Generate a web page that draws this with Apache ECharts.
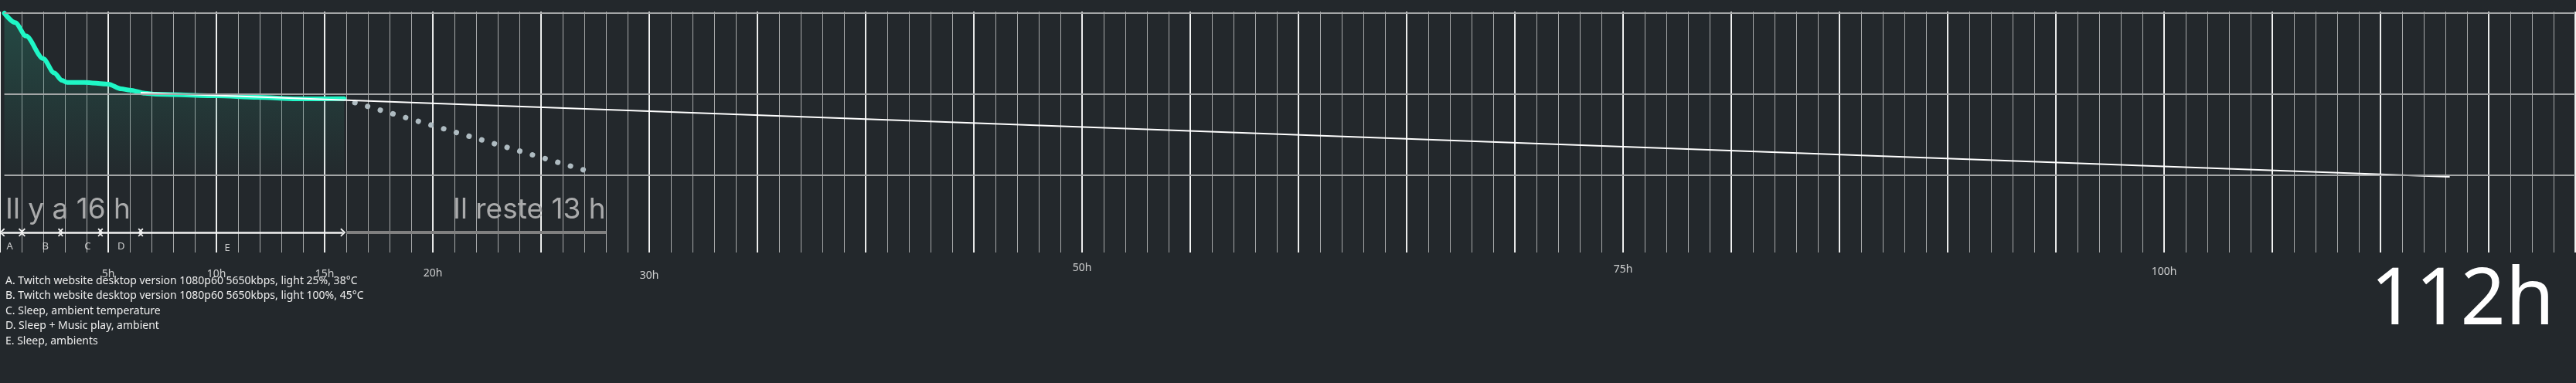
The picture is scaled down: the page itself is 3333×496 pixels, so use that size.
<!DOCTYPE html>
<html>
<head>
<meta charset="utf-8">
<script src="https://cdn.jsdelivr.net/npm/echarts@6/dist/echarts.min.js"></script>
<style>
  html, body { margin: 0; padding: 0; background: #23282c; }
  #chart { width: 3333px; height: 496px; }
</style>
</head>
<body>
<div id="chart"></div>
<script>
// measured battery level (%) against elapsed time (h)
const measuredHours = [0.2, 0.7, 1.2, 2.0, 2.5, 2.86, 3.1, 3.9, 5.0, 5.6, 6.0, 6.7, 7.2, 10, 11.9, 13.7, 15.9];
const measuredLevel = [100, 94.2, 85.9, 71.9, 63.2, 58.6, 57.3, 57.3, 56.2, 53.3, 52.5, 50.6, 50, 49, 48.1, 47.1, 47.3];

// straight trend line and dotted projection
const trendHours = [6.5, 113.2];
const trendLevel = [51, -1];
const projHours = [16.4, 27.46];
const projLevel = [44.8, 1.4];

// usage phases under the chart
const phaseNames = ['A', 'B', 'C', 'D', 'E'];
const phaseStart = [0.1, 1.05, 2.8, 4.64, 6.5];
const phaseEnd = [0.98, 2.8, 4.64, 6.5, 15.85];
const phaseLabelHours = [0.45, 2.1, 4.05, 5.6, 10.5];
const remainingSpan = [16, 28];

const gridLevels = [0, 50, 100];
const tickHours = [5, 10, 15, 20, 30, 50, 75, 100];
const tickLabels = ['5h', '10h', '15h', '20h', '30h', '50h', '75h', '100h'];

const legendLines = [
  'A. Twitch website desktop version 1080p60 5650kbps, light 25%, 38°C',
  'B. Twitch website desktop version 1080p60 5650kbps, light 100%, 45°C',
  'C. Sleep, ambient temperature',
  'D. Sleep + Music play, ambient',
  'E. Sleep, ambients'
];

// layout helpers (pixel rows for things placed below the plot)
const PX_PER_PCT = 2.1, ZERO_Y = 227;
const pyToVal = py => (ZERO_Y - py) / PX_PER_PCT;
const tickLabelY = [355, 355, 355, 354, 357, 347, 349, 352];
const arrowRowY = 301;
const phaseLabelY = [319, 319, 319, 319, 321];

const chevron = 'path://M0,10 L10,0 L20,10 L17.5,12 L10,4.5 L2.5,12 Z';

const chart = echarts.init(document.getElementById('chart'));

const hiddenAxis = { axisLine: { show: false }, axisTick: { show: false }, axisLabel: { show: false } };

const option = {
  animation: false,
  backgroundColor: '#23282c',
  // 28px per hour, 0h..119h
  grid: { left: 0, top: 15, width: 119 * 28, height: 312 },
  xAxis: [
    Object.assign({
      type: 'value', min: 0, max: 119, interval: 1,
      splitLine: { show: true, lineStyle: { color: 'rgba(255,255,255,0.6)', width: 1 } }
    }, hiddenAxis),
    Object.assign({
      type: 'value', min: 0, max: 119, interval: 5,
      splitLine: { show: true, lineStyle: { color: 'rgba(255,255,255,0.88)', width: 2 } }
    }, hiddenAxis)
  ],
  yAxis: {
    type: 'value', show: false,
    min: pyToVal(327), max: pyToVal(15)
  },
  series: [
    {
      type: 'line', data: [], z: 1, silent: true,
      markLine: {
        silent: true, symbol: 'none', label: { show: false },
        lineStyle: { color: '#a3a5a6', width: 2, type: 'solid' },
        data: gridLevels.map(v => [{ coord: [0.2, v] }, { coord: [119, v] }])
      }
    },
    {
      type: 'line', z: 3,
      data: measuredHours.map((h, i) => [h, measuredLevel[i]]),
      smooth: 0.3, smoothMonotone: 'x',
      showSymbol: false,
      lineStyle: { color: '#1ff7c6', width: 6, cap: 'round', join: 'round' },
      areaStyle: {
        color: new echarts.graphic.LinearGradient(0, 0, 0, 1, [
          { offset: 0, color: 'rgba(38,118,100,0.62)' },
          { offset: 1, color: 'rgba(38,118,100,0.03)' }
        ])
      }
    },
    {
      type: 'line', z: 4,
      data: trendHours.map((h, i) => [h, trendLevel[i]]),
      showSymbol: false,
      lineStyle: { color: '#ffffff', width: 2 }
    },
    {
      type: 'line', z: 3,
      data: projHours.map((h, i) => [h, projLevel[i]]),
      showSymbol: false,
      lineStyle: { color: '#aebbc1', width: 7, type: [0.1, 17], cap: 'round' }
    },
    {
      type: 'line', data: [], z: 5, silent: true,
      markLine: {
        silent: true, label: { show: false },
        symbol: [chevron, chevron], symbolSize: [11, 7],
        lineStyle: { color: '#f2f2f2', width: 2.5, type: 'solid' },
        itemStyle: { color: '#f2f2f2' },
        data: phaseNames.map((n, i) => [
          { coord: [phaseStart[i], pyToVal(arrowRowY)] },
          { coord: [phaseEnd[i], pyToVal(arrowRowY)] }
        ]).concat([[
          { coord: [remainingSpan[0], pyToVal(arrowRowY)], symbol: 'none', lineStyle: { color: '#808080', width: 4 } },
          { coord: [remainingSpan[1], pyToVal(arrowRowY)], symbol: 'none' }
        ]])
      }
    },
    {
      type: 'scatter', z: 6, clip: false, silent: true,
      symbolSize: 1, itemStyle: { color: 'transparent' },
      data: phaseNames.map((n, i) => ({ value: [phaseLabelHours[i], pyToVal(phaseLabelY[i])], name: n })),
      label: {
        show: true, position: 'inside', formatter: p => p.name,
        color: '#f0f0f0', fontFamily: 'Noto Sans', fontSize: 13
      }
    },
    {
      type: 'scatter', z: 6, clip: false, silent: true,
      symbolSize: 1, itemStyle: { color: 'transparent' },
      data: tickHours.map((h, i) => ({ value: [h, pyToVal(tickLabelY[i])], name: tickLabels[i] })),
      label: {
        show: true, position: 'inside', formatter: p => p.name,
        color: '#f4f4f4', fontFamily: 'Noto Sans', fontSize: 14
      }
    }
  ],
  graphic: [
    {
      type: 'text', left: 7, top: 253, z: 10,
      style: { text: 'Il y a 16 h', fill: '#a9aaab', font: '37px Inter' }
    },
    {
      type: 'text', left: 586, top: 253, z: 10,
      style: { text: 'Il reste 13 h', fill: '#a9aaab', font: '37px Inter' }
    },
    {
      type: 'text', right: 28, top: 340, z: 10,
      style: { text: '112h', fill: '#ffffff', font: '102px "Noto Sans"' }
    }
  ].concat(legendLines.map((t, i) => ({
    type: 'text', left: 7, top: 357 + i * 19.5, z: 10,
    style: { text: t, fill: '#ededed', font: '14px "Noto Sans"' }
  })))
};

chart.setOption(option);
</script>
</body>
</html>
